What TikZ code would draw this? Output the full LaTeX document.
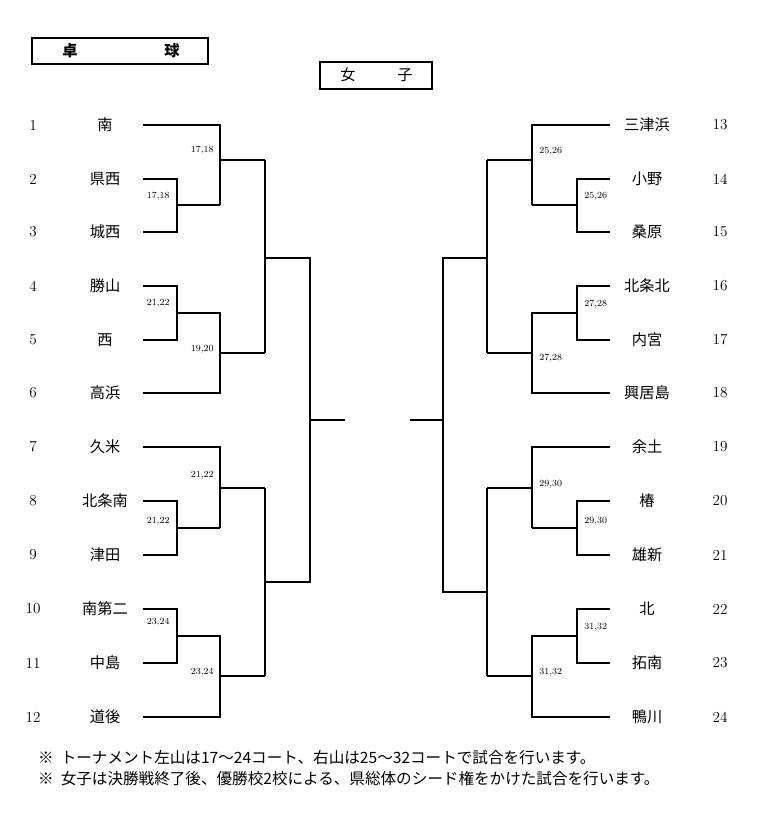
\documentclass[tikz,border=0pt]{standalone}
\usepackage{fontspec}
\newfontfamily\jp{Noto Sans CJK JP}
\tikzset{bracket/.style={line width=1.9pt},
  team/.style={font=\jp\fontsize{13}{14}\selectfont},
  seed/.style={font=\fontsize{13}{14}\selectfont},
  court/.style={font=\fontsize{8}{9}\selectfont, inner sep=1pt},
  titlebox/.style={draw, line width=1.5pt}}
\begin{document}
\begin{tikzpicture}[x=0.03cm,y=-0.03cm]
\useasboundingbox (0,0) rectangle (765,819);

\draw[titlebox] (32,38) rectangle (208,64);
\node[font=\jp\bfseries\fontsize{13}{14}\selectfont] (t1) at (70,51) {卓};
\node[font=\jp\bfseries\fontsize{13}{14}\selectfont] (t2) at (172,51) {球};
\draw[titlebox] (320,62) rectangle (432,89);
\node[team] (g1) at (348,75) {女};
\node[team] (g2) at (405,75) {子};

% left side
\foreach \n/\name/\y in {1/南/125,2/県西/179,3/城西/232,4/勝山/286,5/西/340,6/高浜/393,
  7/久米/447,8/北条南/501,9/津田/555,10/南第二/609,11/中島/663,12/道後/717}{
  \node[seed] (ls\n) at (33,\y) {\n};
  \node[team] (lt\n) at (105,\y) {\name};
}
% right side
\foreach \n/\name/\y in {13/三津浜/125,14/小野/179,15/桑原/232,16/北条北/286,17/内宮/340,18/興居島/393,
  19/余土/447,20/椿/501,21/雄新/555,22/北/609,23/拓南/663,24/鴨川/717}{
  \node[seed] (rs\n) at (720,\y) {\n};
  \node[team] (rt\n) at (647,\y) {\name};
}

\draw[bracket] (143,179) -- (177,179) -- (177,232) -- (143,232);
\draw[bracket] (177,205) -- (220,205);
\draw[bracket] (143,125) -- (220,125) -- (220,205);
\draw[bracket] (220,160) -- (265,160);
\draw[bracket] (143,286) -- (177,286) -- (177,340) -- (143,340);
\draw[bracket] (177,313) -- (220,313) -- (220,393) -- (143,393);
\draw[bracket] (220,353) -- (265,353);
\draw[bracket] (265,160) -- (265,353);
\draw[bracket] (143,501) -- (177,501) -- (177,555) -- (143,555);
\draw[bracket] (177,528) -- (220,528);
\draw[bracket] (143,447) -- (220,447) -- (220,528);
\draw[bracket] (220,488) -- (265,488);
\draw[bracket] (143,609) -- (177,609) -- (177,663) -- (143,663);
\draw[bracket] (177,636) -- (220,636) -- (220,717) -- (143,717);
\draw[bracket] (220,676) -- (265,676);
\draw[bracket] (265,488) -- (265,676);
\draw[bracket] (265,258) -- (310,258) -- (310,582) -- (265,582);
\draw[bracket] (310,420) -- (345,420);

\draw[bracket] (610,179) -- (577,179) -- (577,232) -- (610,232);
\draw[bracket] (577,205) -- (532,205);
\draw[bracket] (610,125) -- (532,125) -- (532,205);
\draw[bracket] (532,160) -- (487,160);
\draw[bracket] (610,286) -- (577,286) -- (577,340) -- (610,340);
\draw[bracket] (577,313) -- (532,313) -- (532,393) -- (610,393);
\draw[bracket] (532,353) -- (487,353);
\draw[bracket] (487,160) -- (487,353);
\draw[bracket] (610,501) -- (577,501) -- (577,555) -- (610,555);
\draw[bracket] (577,528) -- (532,528);
\draw[bracket] (610,447) -- (532,447) -- (532,528);
\draw[bracket] (532,488) -- (487,488);
\draw[bracket] (610,609) -- (577,609) -- (577,663) -- (610,663);
\draw[bracket] (577,636) -- (532,636) -- (532,717) -- (610,717);
\draw[bracket] (532,676) -- (487,676);
\draw[bracket] (487,488) -- (487,676);
\draw[bracket] (487,258) -- (443,258) -- (443,592) -- (487,592);
\draw[bracket] (443,420) -- (410,420);

\node[court, anchor=east] (c1) at (215,150) {17,18};
\node[court, anchor=east] (c2) at (171,196) {17,18};
\node[court, anchor=east] (c3) at (171,303) {21,22};
\node[court, anchor=east] (c4) at (215,349) {19,20};
\node[court, anchor=east] (c5) at (215,475) {21,22};
\node[court, anchor=east] (c6) at (171,521) {21,22};
\node[court, anchor=east] (c7) at (171,622) {23,24};
\node[court, anchor=east] (c8) at (215,672) {23,24};
\node[court, anchor=west] (c9) at (538,151) {25,26};
\node[court, anchor=west] (c10) at (583,196) {25,26};
\node[court, anchor=west] (c11) at (583,304) {27,28};
\node[court, anchor=west] (c12) at (538,358) {27,28};
\node[court, anchor=west] (c13) at (538,484) {29,30};
\node[court, anchor=west] (c14) at (583,521) {29,30};
\node[court, anchor=west] (c15) at (583,627) {31,32};
\node[court, anchor=west] (c16) at (538,672) {31,32};

\node[anchor=west, font=\jp\fontsize{13.3}{14}\selectfont, inner sep=0pt] (n1) at (38,758)
  {※\ \ トーナメント左山は17～24コート、右山は25～32コートで試合を行います。};
\node[anchor=west, font=\jp\fontsize{13.3}{14}\selectfont, inner sep=0pt] (n2) at (38,779)
  {※\ \ 女子は決勝戦終了後、優勝校2校による、県総体のシード権をかけた試合を行います。};
\end{tikzpicture}
\end{document}
